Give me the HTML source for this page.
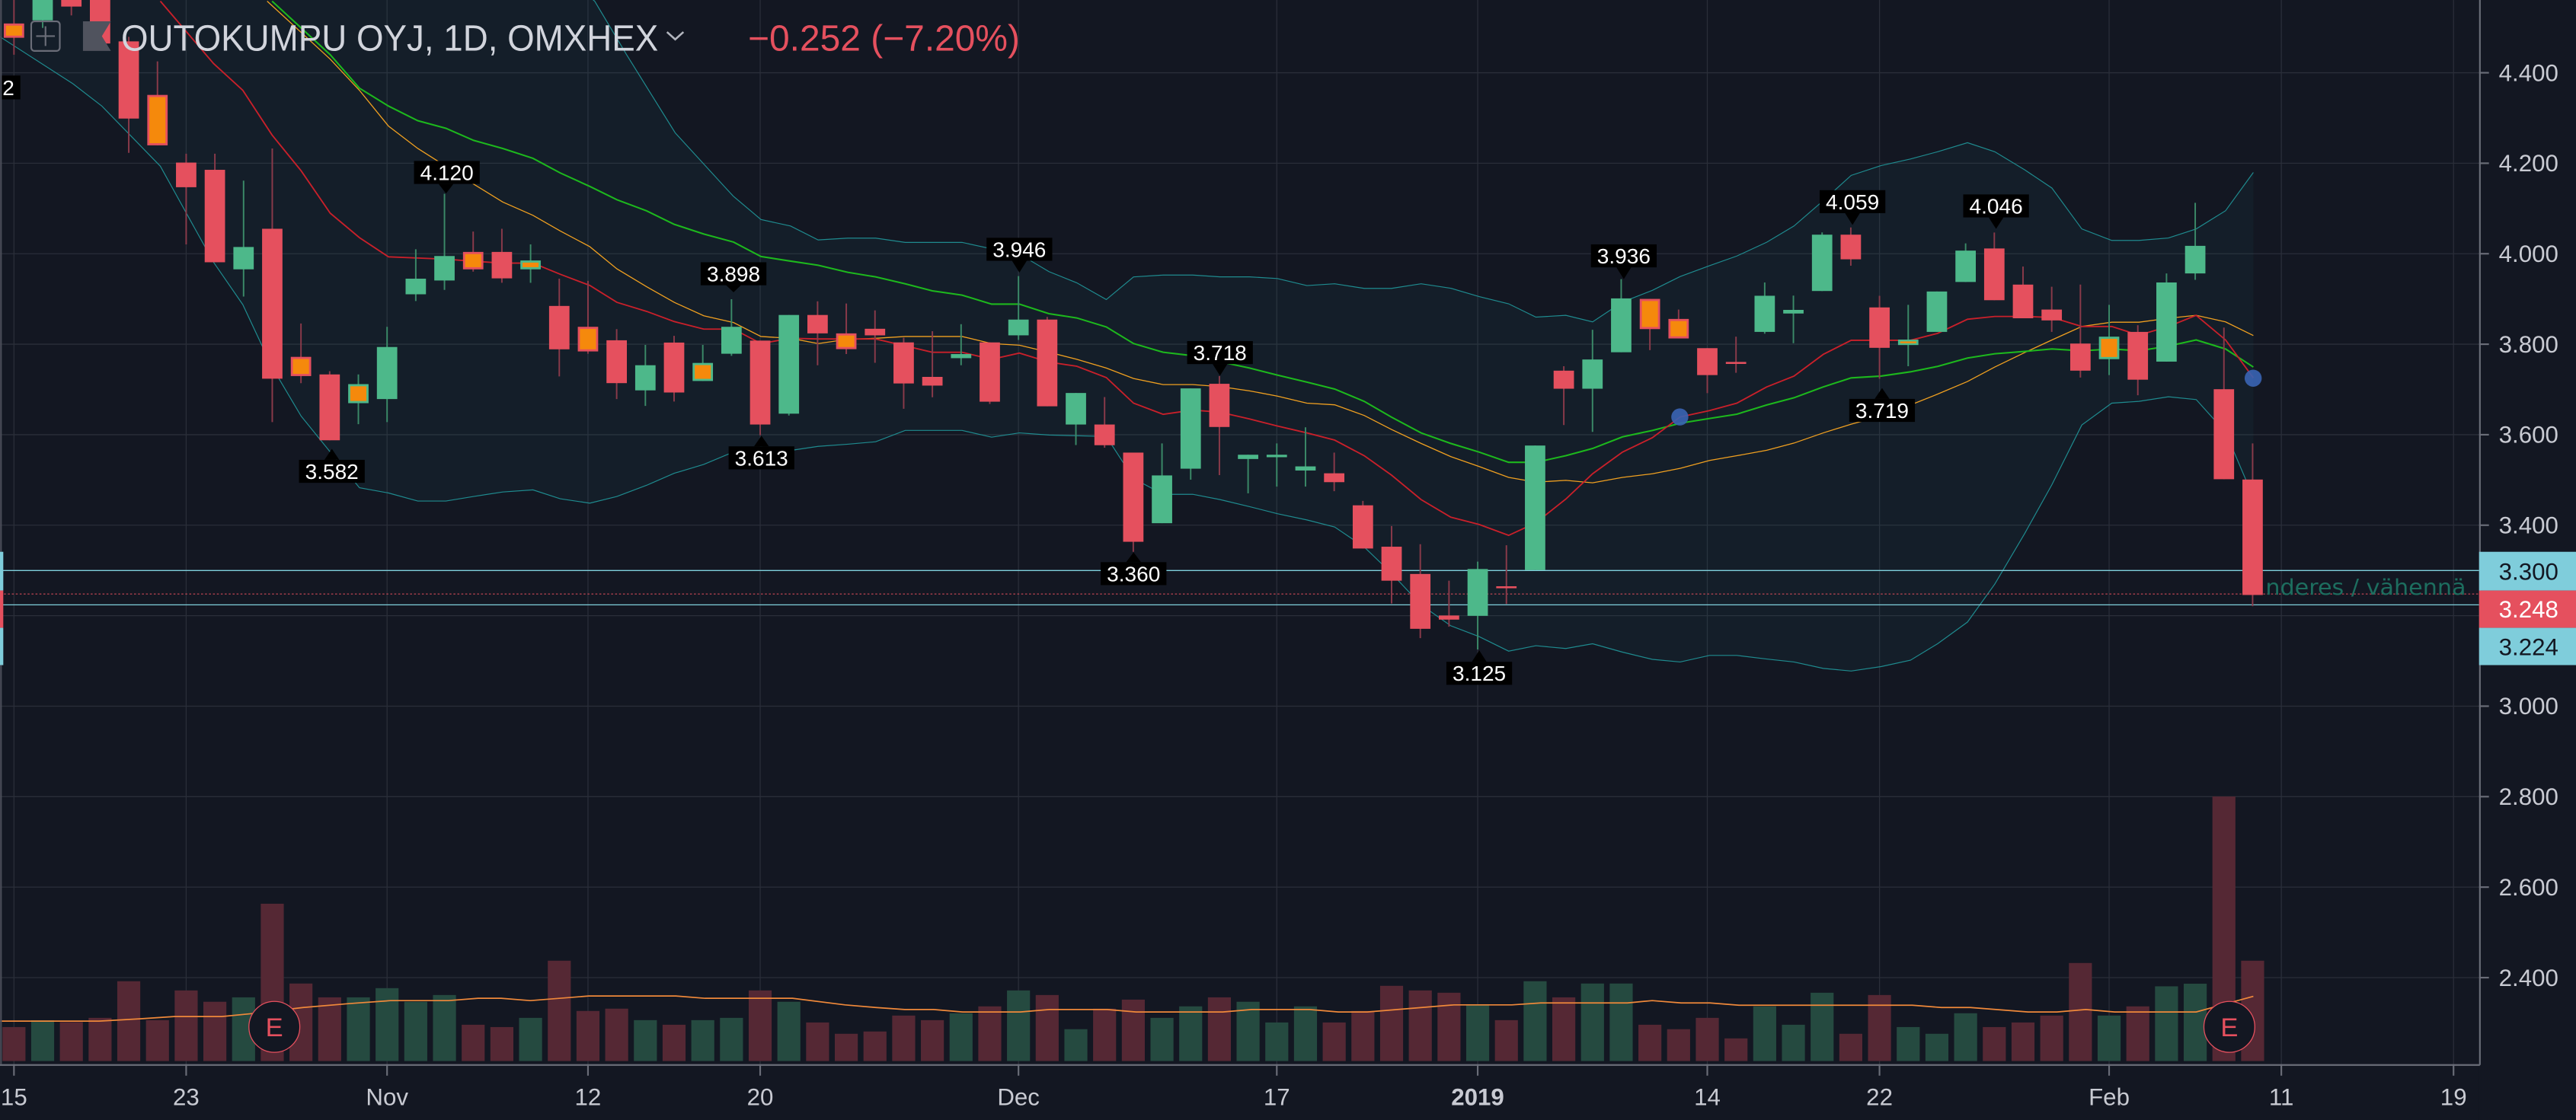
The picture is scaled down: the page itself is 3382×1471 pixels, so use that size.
<!DOCTYPE html>
<html><head><meta charset="utf-8"><style>
html,body{margin:0;padding:0;background:#131722;overflow:hidden}
svg{display:block}
</style></head><body>
<svg id="s" xmlns="http://www.w3.org/2000/svg" width="3382" height="1471" viewBox="0 0 1568 682" preserveAspectRatio="none" font-family="Liberation Sans, Arial, sans-serif">
<rect x="0" y="0" width="1568" height="682" fill="#131722"/>
<g id="grid" stroke="#2a2e39" stroke-width="0.6"></g>
<polygon id="bbfill" fill="#1d6f78" fill-opacity="0.09" stroke="none"/>
<polyline id="bbu" fill="none" stroke="#1f8b8f" stroke-width="0.55"/>
<polyline id="bbl" fill="none" stroke="#1f8b8f" stroke-width="0.55"/>
<g id="vol"></g>
<polyline id="vma" fill="none" stroke="#f0893a" stroke-width="0.8"/>
<g id="hl">
<line x1="0" y1="347.4" x2="1509" y2="347.4" stroke="#7fd0dc" stroke-width="0.6"/>
<line x1="0" y1="368.3" x2="1509" y2="368.3" stroke="#7fd0dc" stroke-width="0.6"/>
<line x1="0" y1="361.7" x2="1509" y2="361.7" stroke="#e5505e" stroke-width="0.5" stroke-dasharray="1.2,1.2"/>
</g>
<polyline id="maO" fill="none" stroke="#f0a020" stroke-width="0.6"/>
<polyline id="maG" fill="none" stroke="#1db81d" stroke-width="0.95"/>
<polyline id="maR" fill="none" stroke="#c9202a" stroke-width="0.85"/>
<g id="candles"></g>
<circle cx="1022.5" cy="253.9" r="5.2" fill="#3a64b4" opacity="0.9"/>
<circle cx="1371.5" cy="230.3" r="5.2" fill="#3a64b4" opacity="0.9"/>
<text x="1379" y="362" font-family="DejaVu Sans, sans-serif" font-size="13" fill="#1d6e5f" textLength="122" lengthAdjust="spacingAndGlyphs">nderes / vähennä</text>
<g id="labels" font-size="13" fill="#fff" text-anchor="middle"></g>
<!-- E markers -->
<g>
<circle cx="167" cy="625.3" r="15.5" fill="#131722" stroke="#e5505e" stroke-width="0.6"/>
<text x="167" y="631" font-size="16" fill="#e5505e" text-anchor="middle">E</text>
<circle cx="1357" cy="625.3" r="15.5" fill="#131722" stroke="#e5505e" stroke-width="0.6"/>
<text x="1357" y="631" font-size="16" fill="#e5505e" text-anchor="middle">E</text>
</g>
<!-- header -->
<rect x="19" y="13" width="17.4" height="18" rx="2" fill="none" stroke="#6a6d78" stroke-width="1"/>
<line x1="27.7" y1="16" x2="27.7" y2="28" stroke="#6a6d78" stroke-width="1"/>
<line x1="22" y1="22" x2="33.4" y2="22" stroke="#6a6d78" stroke-width="1"/>
<polygon points="50.5,13 67.5,13 62,22 67.5,31 50.5,31" fill="#50535e"/>
<text x="73.7" y="30.9" font-size="22.3" fill="#d1d4dc" textLength="327" lengthAdjust="spacingAndGlyphs">OUTOKUMPU OYJ, 1D, OMXHEX</text>
<polyline points="406,19.5 411,24 416,19.5" fill="none" stroke="#b2b5be" stroke-width="1.2"/>
<text x="455.3" y="30.9" font-size="22.3" fill="#e5505e" textLength="165.5" lengthAdjust="spacingAndGlyphs">−0.252 (−7.20%)</text>
<rect x="0" y="46" width="12.4" height="14.5" fill="#000"/>
<text x="1.5" y="58" font-size="13" fill="#fff">2</text>
<!-- axes -->
<rect x="1509" y="0" width="59" height="682" fill="#131722"/>
<rect x="0" y="648" width="1509" height="34" fill="#131722"/>
<line x1="1509.5" y1="0" x2="1509.5" y2="648.5" stroke="#6a6d78" stroke-width="1"/>
<line x1="0" y1="648.5" x2="1509.5" y2="648.5" stroke="#6a6d78" stroke-width="1"/>
<line x1="0.6" y1="0" x2="0.6" y2="648" stroke="#4a4d58" stroke-width="1"/>
<g id="axis" font-size="14.5" fill="#c8cad2"></g>
<rect x="1509" y="336" width="59" height="23.6" fill="#7fcddb"/>
<text x="1521" y="353" font-size="14.5" fill="#131722">3.300</text>
<rect x="1509" y="359.6" width="59" height="22.7" fill="#e5505e"/>
<text x="1521" y="376" font-size="14.5" fill="#ffffff">3.248</text>
<rect x="1509" y="382.3" width="59" height="22.7" fill="#7fcddb"/>
<text x="1521" y="399" font-size="14.5" fill="#131722">3.224</text>
<rect x="0" y="336" width="2" height="23.6" fill="#7fcddb"/>
<rect x="0" y="359.6" width="2" height="22.7" fill="#e5505e"/>
<rect x="0" y="382.3" width="2" height="22.7" fill="#7fcddb"/>
</svg>
<script>
var NS="http://www.w3.org/2000/svg";
function el(p,t,a){var e=document.createElementNS(NS,t);for(var k in a)e.setAttribute(k,a[k]);p.appendChild(e);return e;}
function X(i){return 8.5+17.47*i;}
function Y(p){return 319.8+(3.4-p)*275.5;}
var grid=document.getElementById('grid');
var ticks=[[0,'15'],[6,'23'],[13,'Nov'],[20,'12'],[26,'20'],[35,'Dec'],[44,'17'],[51,'2019'],[59,'14'],[65,'22'],[73,'Feb'],[79,'11'],[85,'19']];
ticks.forEach(function(t){el(grid,'line',{x1:X(t[0]),y1:0,x2:X(t[0]),y2:648});});
var prices=[4.6,4.4,4.2,4.0,3.8,3.6,3.4,3.2,3.0,2.8,2.6,2.4];
prices.forEach(function(p){el(grid,'line',{x1:0,y1:Y(p),x2:1509,y2:Y(p)});});
var ax=document.getElementById('axis');
[4.4,4.2,4.0,3.8,3.6,3.4,3.0,2.8,2.6,2.4].forEach(function(p){
 el(ax,'line',{x1:1509,y1:Y(p),x2:1515,y2:Y(p),stroke:'#6a6d78','stroke-width':1});
 var t=el(ax,'text',{x:1521,y:Y(p)+5});t.textContent=p.toFixed(3);});
ticks.forEach(function(t){
 el(ax,'line',{x1:X(t[0]),y1:648,x2:X(t[0]),y2:655,stroke:'#6a6d78','stroke-width':1});
 var a={x:X(t[0]),y:673,'text-anchor':'middle'};if(t[1]=='2019')a['font-weight']='bold';
 var e=el(ax,'text',a);e.textContent=t[1];});
var C=[
[0,'r',1,14.3,23,-5,33.3],[1,'g',0,-20,12.4,-25,17],[2,'r',0,-20,4,-25,9.4],[3,'r',0,-20,26.5,-25,26.5],
[4,'r',0,25.2,72.2,22.4,93.1],[5,'r',1,57.8,88.5,37.4,88.5],[6,'r',0,99,114,93.6,148.8],[7,'r',0,103.4,159.7,93.6,159.7],
[8,'g',0,150.4,164,110,180.6],[9,'r',0,139.3,230.6,90.4,257],[10,'r',1,217.3,229,197,233.3],[11,'r',0,228,268.1,226,268.1],
[12,'g',1,233.9,245.5,228,258.3],[13,'g',0,211.3,243,199,257],[14,'g',0,169.7,179.2,151.8,183.3],[15,'g',0,155.9,170.8,118,176.5],
[16,'r',1,153.4,164,141,165.4],[17,'r',0,153.4,169.5,139.3,172.2],[18,'g',1,158.6,164,148.8,172.2],[19,'r',0,186.3,212.7,169.7,229.2],
[20,'r',1,199,214,171,215.4],[21,'r',0,207.2,233.3,200.4,243],[22,'g',0,222.4,237.7,210,247.2],[23,'r',0,208.6,239,204.5,244.5],
[24,'g',1,221,232,210,232],[25,'g',0,199,215.4,182.2,216.7],[26,'r',0,207.4,258.5,207.4,265],[27,'g',0,191.8,251.9,191.8,253],
[28,'r',0,191.8,203,183.5,222.4],[29,'r',1,203,212.6,184.8,215.6],[30,'r',0,200.2,204.2,189,220.9],[31,'r',0,208.5,233.5,205.7,248.9],
[32,'r',0,229.5,234.8,201.7,241.9],[33,'g',0,215.6,218.1,197.4,222.4],[34,'r',0,208.5,244.6,208.5,246],[35,'g',0,194.6,204.2,168.1,207],
[36,'r',0,194.6,247.4,193,247.4],[37,'g',0,239.3,258.5,239.3,271],[38,'r',0,258.5,271.1,241.8,272.6],[39,'r',0,275.6,329.9,275.6,336],
[40,'g',0,289.5,318.6,270,318.6],[41,'g',0,236.5,285.4,236.5,292.1],[42,'r',0,233.7,260,229,289.3],[43,'g',0,276.9,279.5,276.9,300.4],
[44,'g',0,276.9,278.4,270,296.3],[45,'g',0,284,286.5,260.2,296.3],[46,'r',0,288.2,293.6,275.6,299.1],[47,'r',0,307.7,334,305,334],
[48,'r',0,332.9,353.6,320.3,367.5],[49,'r',0,349.5,382.9,331.4,388.6],[50,'r',0,374.8,377.3,353.6,381.6],[51,'g',0,346.5,375,342,395.5],
[52,'r',0,357,358.2,332,367.8],[53,'g',0,271.3,347.1,271.3,347.1],[54,'r',0,225.7,236.7,223,258.8],[55,'g',0,218.9,236.7,200.8,263],
[56,'g',0,181.7,214.5,170,214.5],[57,'r',1,182,200.4,182,213.2],[58,'r',1,194.2,206.1,188.5,206.1],[59,'r',0,212,228.4,212,239.4],
[60,'r',0,220.4,221.6,205,227],[61,'g',0,180.1,202.1,172,203.2],[62,'g',0,188.7,190.9,180,209],[63,'g',0,142.9,177.2,141.5,177.2],
[64,'r',0,142.9,157.9,138.5,161.8],[65,'r',0,187.2,211.8,180.1,230.6],[66,'g',1,206.8,210.1,185.6,223],[67,'g',0,177.5,202.1,177.5,202.1],
[68,'g',0,152.6,171.7,148.2,171.7],[69,'r',0,151.3,182.8,141.6,182.8],[70,'r',0,173.3,193.8,162.3,193.8],[71,'r',0,188.5,195.1,174.6,202.1],
[72,'r',0,209.2,225.7,173.3,229.9],[73,'g',1,205,218.7,185.6,228.4],[74,'r',0,202.1,231.2,198,240.7],[75,'g',0,172,220.2,166.5,220.2],
[76,'g',0,149.7,166.5,123.5,170.4],[77,'r',0,237,291.8,199.5,291.8],[78,'r',0,292,362.3,270,369.1]];
var V=[625.4,621.3,622.4,619.8,597.5,621.2,603.1,610,607.3,550.3,598.9,607.3,607.3,601.7,610,605.9,624,625.4,619.8,585,615.6,614.2,621.2,624,621.2,619.8,603.1,610,622.6,629.5,628.1,618.4,
621.2,617,612.8,603.1,605.9,626.7,614.2,608.7,619.8,612.8,607.3,610,622.6,612.8,622.6,615.6,600.3,603.1,604.5,611.5,621.2,597.5,607.3,598.9,598.9,624,626.7,619.8,632.3,612.8,624,604.5,629.5,605.9,625.4,629.5,617,625.4,622.6,618.4,586.4,618.4,612.8,600.6,599,485,585];
var cg=document.getElementById('candles'),vg=document.getElementById('vol');
C.forEach(function(c){
 var x=X(c[0]),up=c[1]=='g';
 var col=up?'#4db88a':'#e5505e',wc=up?'#3b8a68':'#8a3a4a';
 el(vg,'rect',{x:x-7,y:V[c[0]],width:14,height:646.1-V[c[0]],fill:up?'#254a40':'#552834'});
 el(cg,'line',{x1:x,y1:c[5],x2:x,y2:c[6],stroke:wc,'stroke-width':0.9});
 var h=Math.max(c[4]-c[3],1.2);
 if(c[2]){el(cg,'rect',{x:x-6.2,y:c[3],width:12.4,height:h,fill:col});
  var inset=Math.min(1.3,h/3);
  el(cg,'rect',{x:x-6.2+1.3,y:c[3]+inset,width:12.4-2.6,height:Math.max(h-2*inset,0.6),fill:'#f5890c'});}
 else el(cg,'rect',{x:x-6.2,y:c[3],width:12.4,height:h,fill:col});
});
function pl(id,pts){document.getElementById(id).setAttribute('points',pts.map(function(p){return p[0]+','+p[1];}).join(' '));}
var R=[[97.6,0.7],[130,38.7],[147.8,55],[165.6,82.2],[183.3,104],[201,129.8],[218.8,144.7],[236.5,156.4],[271.4,157.8],[288.3,159.1],[306,160.2],[324.4,160.2],[341,167],[359,173.8],[375.5,184.1],[393.6,189.6],[410.4,195.8],[428.4,200.4],[446.5,200.4],[463.2,209.2],[481.2,206],[498,206.4],[533,206.4],[551,210.6],[567.5,214.5],[585.6,214.5],[603.6,218.8],[620.5,215],[638.5,220.5],[655.4,223],[673.4,229.9],[690,245.5],[708,252.3],[726,249.7],[742.6,251],[760.6,255.1],[777.5,259.4],[795.5,263.6],[812.4,268],[830.4,277.5],[847,289.3],[865,304.2],[883,314.9],[900.4,319.4],[918.3,326],[934.9,318.3],[953.1,303.9],[969.4,288.5],[987.6,275.3],[1005.8,266.5],[1022.7,253.9],[1040.6,250],[1057.2,245.5],[1075.4,235.6],[1092,229],[1109.8,215.8],[1126.8,207.2],[1145,207.2],[1162.9,207.2],[1179.4,203],[1197.6,194.4],[1214.2,192.7],[1232.4,192.7],[1249,193.3],[1267.2,198.8],[1285.4,198.8],[1302,204.1],[1319.9,198.8],[1336.8,192],[1354.7,207],[1371.6,230.1]];
var O=[[162.6,0.7],[201,36],[218.8,55],[236.5,76.8],[254.3,90.4],[271.4,101.2],[288.3,112.1],[306,123],[324.4,131.1],[341,140.6],[359,150.2],[375.5,163.7],[393.6,174.6],[410.4,184.1],[428.4,192.3],[446.5,196.4],[463.2,204.9],[481.2,206],[498,209.2],[516,206.6],[533,206],[551,204.9],[585.6,204.9],[603.6,209.2],[620.5,210.2],[638.5,214.5],[655.4,218.8],[673.4,224.1],[690,230.5],[708,234.2],[726,234.2],[742.6,235.4],[760.6,238],[777.5,241.2],[795.5,245.5],[812.4,246.5],[830.4,253],[847,261.5],[865,270],[883,278],[900.4,284.1],[918.3,290.7],[934.9,293.6],[953.1,292.5],[969.4,294],[987.6,290.7],[1005.8,288.5],[1022.7,285.2],[1040.6,280.4],[1057.2,277.5],[1075.4,274.2],[1092,269.8],[1109.8,263.6],[1126.8,258.3],[1145,253.3],[1162.9,246.6],[1179.4,240],[1197.6,232.3],[1214.2,223.5],[1232.4,214.7],[1249,207],[1267.2,198.8],[1285.4,196.2],[1302,196.2],[1319.9,193.8],[1336.8,192],[1354.7,196],[1371.6,204.3]];
var G=[[165.6,0.7],[201,33.3],[218.8,53.7],[236.5,64.6],[254.3,73.5],[271.4,78.1],[288.3,85.5],[306,90.4],[324.4,96.4],[341,105.3],[359,113.5],[375.5,121.6],[393.6,128.4],[410.4,136.6],[428.4,142.5],[446.5,147.4],[463.2,156.2],[481.2,159],[498,161.5],[516,165.8],[533,168.6],[551,172.8],[567.5,177.1],[585.6,179.7],[603.6,185.2],[620.5,185.2],[638.5,191],[655.4,193.6],[673.4,199.1],[690,209.2],[708,214.5],[726,216.6],[742.6,220.3],[760.6,224.1],[777.5,228.4],[795.5,232.7],[812.4,236.9],[830.4,244.4],[847,254],[865,263.6],[883,270],[900.4,275.3],[918.3,281.5],[934.9,281.5],[953.1,277.5],[969.4,273.1],[987.6,266],[1005.8,262.1],[1022.7,257.7],[1040.6,254.8],[1057.2,252.2],[1075.4,246.6],[1092,242.2],[1109.8,235.6],[1126.8,230.1],[1145,229],[1162.9,226.4],[1179.4,223.1],[1197.6,218],[1214.2,215.4],[1232.4,214],[1249,212.5],[1267.2,213.6],[1285.4,212.5],[1302,213.6],[1319.9,210.7],[1336.8,207],[1354.7,212.5],[1371.6,223.5]];
var BU=[[355,-5],[362,0.7],[381.4,33.3],[411,80.9],[440.4,113],[446.3,119.4],[463.2,133.7],[481.2,137.6],[498,146.1],[516,145],[533,145],[551,147.6],[585.6,147.6],[603.6,151.5],[620.5,154.7],[638.5,165.4],[655.4,172.2],[673.4,182.4],[690,168.6],[708,167.5],[726,167.5],[742.6,168.6],[760.6,168.6],[777.5,169.6],[795.5,173.9],[812.4,172.8],[830.4,175.6],[847,175.6],[865,172.8],[883,175.5],[900.4,180.6],[918.3,185],[934.9,193.1],[953.1,192],[969.4,196],[987.6,183.9],[1005.8,176.8],[1022.7,168.4],[1040.6,161.8],[1057.2,155.9],[1075.4,147.5],[1092,137.6],[1109.8,122.2],[1126.8,106.8],[1145,100.8],[1162.9,96.8],[1179.4,92.4],[1197.6,86.9],[1214.2,92.4],[1232.4,103.4],[1249,114.5],[1267.2,139.4],[1285.4,146.4],[1302,146.4],[1319.9,144.9],[1336.8,139.4],[1354.7,128.3],[1371.6,105]];
var BL=[[0,22.4],[44.4,51],[62,64.6],[97.6,101.2],[130,159.7],[147.8,185.5],[165.6,223.5],[183.3,253.4],[201,275.2],[218.8,297],[236.5,300.2],[254.3,305.1],[271.4,305.1],[288.3,302.3],[306,299.6],[324.4,298.3],[341,303.7],[359,306.4],[375.5,302.3],[393.6,295.5],[410.4,288.2],[428.4,282.8],[446.5,275.2],[463.2,272],[481.2,274.3],[498,271.8],[516,270.5],[533,269],[551,262.1],[585.6,262.1],[603.6,266.2],[620.5,263.6],[638.5,264.9],[673.4,265.8],[690,291.4],[708,301],[726,301],[742.6,304.2],[760.6,308.5],[777.5,312.8],[795.5,316.6],[812.4,320.9],[830.4,333.1],[847,349.1],[865,368.3],[883,381],[900.4,387.7],[918.3,396.5],[934.9,393.2],[953.1,394.9],[969.4,392],[987.6,397.1],[1005.8,401.5],[1022.7,403.1],[1040.6,399.1],[1057.2,399.1],[1075.4,401.3],[1092,403.1],[1109.8,407],[1126.8,408.6],[1145,405.9],[1162.9,402],[1179.4,392],[1197.6,378.8],[1214.2,355.7],[1232.4,324.9],[1249,295.1],[1267.2,258.8],[1285.4,245.5],[1302,244.4],[1319.9,241.6],[1336.8,243.3],[1354.7,263.2],[1371.6,302.8]];
var VM=[[0,621.8],[60.3,621.8],[85,620.4],[106,619],[135,619],[152.5,617.3],[184.5,613.5],[212.8,611.1],[237.7,609.3],[273,609.3],[291,607.9],[305,607.9],[322.8,609.3],[358.3,606.5],[411.5,606.5],[429.2,607.9],[482.4,607.9],[514.4,611.9],[533.1,613.5],[550.7,614.7],[568.3,614.7],[585.9,616.2],[621,616.2],[638.7,614.7],[673.9,614.7],[691.5,616.2],[744.3,616.2],[761.9,614.7],[797.1,614.7],[814.7,616.2],[832.3,616.2],[885,611.9],[920.2,611.9],[937.8,610.7],[990.6,610.7],[1005.7,609.3],[1023.3,610.7],[1040.9,610.7],[1058.5,612.1],[1164,612.1],[1181.7,613.5],[1199.3,613.5],[1234.5,616.2],[1252.1,616.2],[1269.6,614.7],[1287.2,616.2],[1336.8,616.2],[1371.6,606.7]];
pl('maR',R);pl('maO',O);pl('maG',G);pl('bbu',BU);pl('bbl',BL);pl('vma',VM);
var up=[[0,-5]].concat(BU);
var fill=[[0,-5]].concat(BU).concat(BL.slice().reverse());
pl('bbfill',fill);
var L=[['4.120',252,98,271.5,117.8,1],['3.582',182,280,202,273.3,0],['3.898',426.5,159.7,446.5,178,1],['3.613',443.5,271.8,463.5,265.3,0],
['3.946',600.5,144.8,620.5,166,1],['3.718',722.6,207.7,742.6,228.8,1],['3.360',670,342.3,690,336.3,0],['3.125',880.4,403,900.4,396,0],
['3.936',968.4,148.8,988.4,170,1],['4.059',1107.6,115.8,1127.6,137,1],['3.719',1125.6,242.9,1145.6,236.3,0],['4.046',1195,118.4,1215,139.4,1]];
var lg=document.getElementById('labels');
L.forEach(function(l){
 el(lg,'rect',{x:l[1],y:l[2],width:40,height:14,fill:'#000'});
 var tx=l[3],ty=l[4];
 if(l[5])el(lg,'polygon',{points:(tx-4.5)+','+(l[2]+14)+' '+(tx+4.5)+','+(l[2]+14)+' '+tx+','+ty,fill:'#000'});
 else el(lg,'polygon',{points:(tx-4.5)+','+l[2]+' '+(tx+4.5)+','+l[2]+' '+tx+','+ty,fill:'#000'});
 var t=el(lg,'text',{x:l[1]+20,y:l[2]+11.6});t.textContent=l[0];
});
</script>
</body></html>
